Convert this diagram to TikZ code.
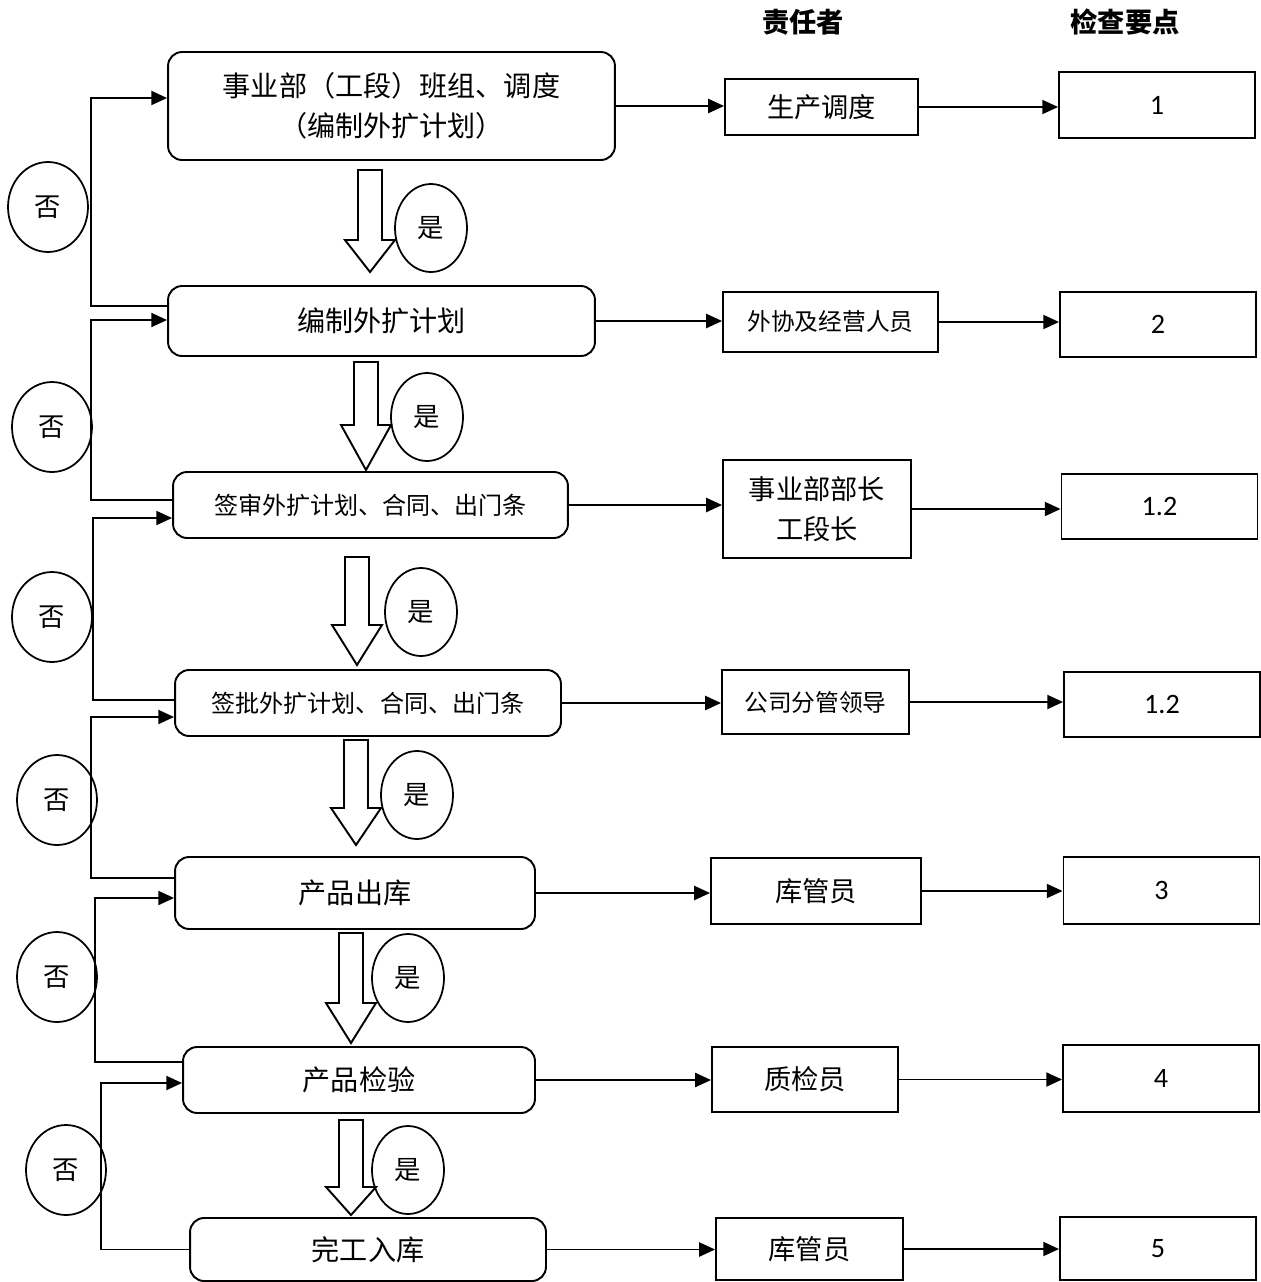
\documentclass[tikz,border=0pt]{standalone}
\usepackage{fontspec}
\setmainfont{Carlito}
\newfontfamily\cjk{Noto Sans CJK SC}
\usepackage{tikz}
\usetikzlibrary{shapes,arrows.meta,positioning,calc}
\tikzstyle{pnode} = [rectangle, rounded corners=8pt, draw, line width=1.1pt, align=center, inner sep=0pt, font=\cjk\fontsize{16}{23}\selectfont]
\tikzstyle{rnode} = [rectangle, draw, line width=1.1pt, align=center, inner sep=0pt, font=\cjk\fontsize{15.5}{23}\selectfont]
\tikzstyle{knode} = [rectangle, draw, line width=1.1pt, inner sep=0pt, minimum width=3.92cm, font=\fontsize{16}{19}\selectfont]
\tikzstyle{nonode} = [ellipse, draw, line width=1pt, inner sep=0pt, minimum width=1.6cm, minimum height=1.8cm, font=\cjk\fontsize{15}{18}\selectfont]
\tikzstyle{yesnode} = [ellipse, draw, line width=1pt, inner sep=0pt, minimum width=1.44cm, minimum height=1.76cm, font=\cjk\fontsize{15}{18}\selectfont]
\tikzstyle{head} = [font=\cjk\bfseries\fontsize{15.5}{18}\selectfont]
\tikzstyle{line} = [draw, line width=1.1pt, -{Triangle[length=9pt,width=8pt]}]
\tikzstyle{hollow} = [draw, line width=1.1pt, fill=white, line join=miter]
% hollow down arrow: centre x, top, head base, tip
\newcommand{\yesarrow}[4]{\path[hollow] (#1-12,#2) -- (#1+12,#2) -- (#1+12,#3) -- (#1+25,#3) -- (#1,#4) -- (#1-25,#3) -- (#1-12,#3) -- cycle;}

\begin{document}
\begin{tikzpicture}[x=0.02cm, y=-0.02cm]
	\fill[white] (0,0) rectangle (1261,1282);
	\useasboundingbox (0,0) rectangle (1261,1282);

	\node [head] (hr) at (803, 22) {责任者};
	\node [head] (hk) at (1125, 22) {检查要点};

	% process
	\node [pnode, minimum width=8.94cm, minimum height=2.16cm] (p1) at (391.5, 106) {事业部（工段）班组、调度\\（编制外扩计划）};
	\node [pnode, minimum width=8.54cm, minimum height=1.4cm] (p2) at (381.5, 321) {编制外扩计划};
	\node [pnode, minimum width=7.9cm, minimum height=1.32cm, font=\cjk\fontsize{13.7}{18}\selectfont] (p3) at (370.5, 505) {签审外扩计划、合同、出门条};
	\node [pnode, minimum width=7.72cm, minimum height=1.32cm, font=\cjk\fontsize{13.7}{18}\selectfont] (p4) at (368, 703) {签批外扩计划、合同、出门条};
	\node [pnode, minimum width=7.2cm, minimum height=1.44cm] (p5) at (355, 893) {产品出库};
	\node [pnode, minimum width=7.04cm, minimum height=1.32cm] (p6) at (359, 1080) {产品检验};
	\node [pnode, minimum width=7.12cm, minimum height=1.26cm] (p7) at (368, 1249.5) {完工入库};

	% responsible
	\node [rnode, minimum width=3.86cm, minimum height=1.12cm] (r1) at (821.5, 107) {生产调度};
	\node [rnode, minimum width=4.3cm, minimum height=1.2cm, font=\cjk\fontsize{13.5}{18}\selectfont] (r2) at (830.5, 322) {外协及经营人员};
	\node [rnode, minimum width=3.76cm, minimum height=1.96cm] (r3) at (817, 509) {事业部部长\\工段长};
	\node [rnode, minimum width=3.74cm, minimum height=1.28cm, font=\cjk\fontsize{13.5}{18}\selectfont] (r4) at (815.5, 702) {公司分管领导};
	\node [rnode, minimum width=4.2cm, minimum height=1.32cm] (r5) at (816, 891) {库管员};
	\node [rnode, minimum width=3.72cm, minimum height=1.3cm] (r6) at (805, 1079.5) {质检员};
	\node [rnode, minimum width=3.74cm, minimum height=1.24cm] (r7) at (809.5, 1249) {库管员};

	% check points
	\node [knode, minimum height=1.32cm] (k1) at (1157, 105) {1};
	\node [knode, minimum height=1.3cm] (k2) at (1158, 324.5) {2};
	\node [knode, minimum height=1.3cm] (k3) at (1159.5, 506.5) {1.2};
	\node [knode, minimum height=1.3cm] (k4) at (1162, 704.5) {1.2};
	\node [knode, minimum height=1.34cm] (k5) at (1161.5, 890.5) {3};
	\node [knode, minimum height=1.34cm] (k6) at (1161, 1078.5) {4};
	\node [knode, minimum height=1.26cm] (k7) at (1158, 1248.5) {5};

	\path [line] (p1.east) -- (p1.east -| r1.west);
	\path [line] (r1.east) -- (r1.east -| k1.west);
	\path [line] (p2.east) -- (p2.east -| r2.west);
	\path [line] (r2.east) -- (r2.east -| k2.west);
	\path [line] (p3.east) -- (p3.east -| r3.west);
	\path [line] (r3.east) -- (r3.east -| k3.west);
	\path [line] (p4.east) -- (p4.east -| r4.west);
	\path [line] (r4.east) -- (r4.east -| k4.west);
	\path [line] (p5.east) -- (p5.east -| r5.west);
	\path [line] (r5.east) -- (r5.east -| k5.west);
	\path [line] (p6.east) -- (p6.east -| r6.west);
	\path [line] (r6.east) -- (r6.east -| k6.west);
	\path [line] (p7.east) -- (p7.east -| r7.west);
	\path [line] (r7.east) -- (r7.east -| k7.west);

	% back loops
	\path [line] ($(p2.west)+(0,-15)$) -- ++(-76,0) |- ($(p1.west)+(0,-8)$);
	\path [line] ($(p3.west)+(0,-5)$) -- ++(-81,0) |- ($(p2.west)+(0,-1)$);
	\path [line] ($(p4.west)+(0,-3)$) -- ++(-81,0) |- ($(p3.west)+(0,13)$);
	\path [line] ($(p5.west)+(0,-15)$) -- ++(-83,0) |- ($(p4.west)+(0,14)$);
	\path [line] ($(p6.west)+(0,-18)$) -- ++(-87,0) |- ($(p5.west)+(0,5)$);
	\path [line] ($(p7.west)+(0,0)$) -- ++(-88,0) |- ($(p6.west)+(0,3)$);

	\node [nonode] (n1) at (48, 207) {否};
	\node [nonode] (n2) at (52, 427) {否};
	\node [nonode] (n3) at (52, 617) {否};
	\node [nonode] (n4) at (57, 800) {否};
	\node [nonode] (n5) at (57, 977) {否};
	\node [nonode] (n6) at (66, 1170) {否};

	% yes arrows
	\yesarrow{370}{170}{240}{272}
	\yesarrow{366}{362}{425}{470}
	\yesarrow{357}{557}{625}{665}
	\yesarrow{356}{740}{808}{845}
	\yesarrow{351}{933}{1003}{1043}
	\yesarrow{351}{1120}{1187}{1215}

	\node [yesnode] (y1) at (431, 228) {是};
	\node [yesnode] (y2) at (427, 417) {是};
	\node [yesnode] (y3) at (421, 612) {是};
	\node [yesnode] (y4) at (417, 795) {是};
	\node [yesnode] (y5) at (408, 978) {是};
	\node [yesnode] (y6) at (408, 1170) {是};
\end{tikzpicture}
\end{document}
